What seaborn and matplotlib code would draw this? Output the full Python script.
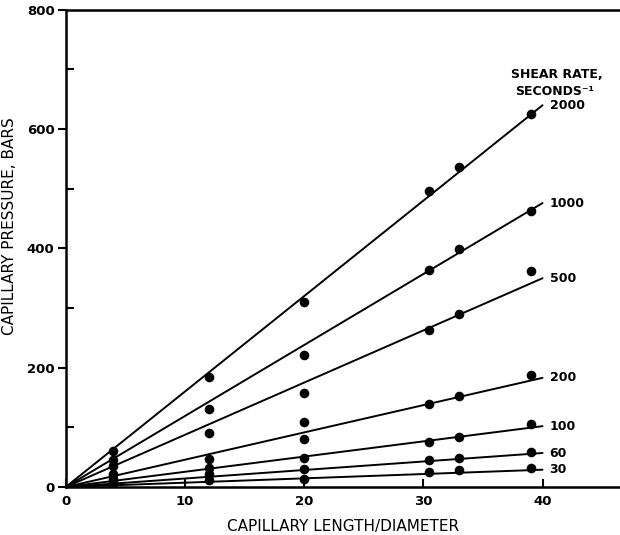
import numpy as np
import pandas as pd
import matplotlib
matplotlib.use("Agg")
import matplotlib.pyplot as plt
import seaborn as sns
from matplotlib.ticker import MultipleLocator

# ---- data ----
shear_rates = ["2000", "1000", "500", "200", "100", "60", "30"]
length_diameter = [4, 12, 20, 30.5, 33, 39]
pressure_2000 = [60, 185, 310, 497, 537, 625]
pressure_1000 = [45, 131, 222, 364, 399, 463]
pressure_500 = [35, 90, 158, 263, 290, 362]
pressure_200 = [22, 47, 80, 139, 153, 187]
pressure_100 = [14, 32, 49, 76, 84, 106]
pressure_60 = [9, 22, 30, 45, 49, 59]
pressure_30 = [5, 12, 13, 25, 29, 32]
extra_x = [20]
extra_pressure = [109]
# fitted straight lines: pressure at L/D = 40
fit_x = [0, 40]
fit_end_pressure = [640, 476, 350, 183, 102, 57, 29]

x_ticks = [0, 10, 20, 30, 40]
y_ticks = [0, 200, 400, 600, 800]

series = [pressure_2000, pressure_1000, pressure_500, pressure_200,
          pressure_100, pressure_60, pressure_30]

pts = pd.DataFrame(
    [(x, y, r) for r, ys in zip(shear_rates, series) for x, y in zip(length_diameter, ys)]
    + [(x, y, "200") for x, y in zip(extra_x, extra_pressure)],
    columns=["ld", "p", "rate"],
)
lines = pd.DataFrame(
    [(x, x / fit_x[1] * v, r) for r, v in zip(shear_rates, fit_end_pressure) for x in fit_x],
    columns=["ld", "p", "rate"],
)

sns.set_theme(style="ticks")
plt.rcParams["font.family"] = ["DejaVu Sans"]
plt.rcParams["text.color"] = "black"
plt.rcParams["axes.labelcolor"] = "black"
plt.rcParams["xtick.color"] = "black"
plt.rcParams["ytick.color"] = "black"

fig = plt.figure(figsize=(6.2, 5.35), dpi=100)
ax = fig.add_axes([0.106, 0.0897, 0.894, 0.892])

sns.lineplot(data=lines, x="ld", y="p", units="rate", estimator=None,
             color="black", linewidth=1.4, ax=ax, legend=False)
sns.scatterplot(data=pts, x="ld", y="p", color="black", s=48,
                edgecolor="black", linewidth=0, ax=ax, legend=False, zorder=3)

ax.set_xlim(0, 46.5)
ax.set_ylim(0, 800)
ax.set_xticks(x_ticks)
ax.set_yticks(y_ticks)
ax.yaxis.set_minor_locator(MultipleLocator(100))
ax.tick_params(axis="x", direction="in", length=6, width=1.5, labelsize=9.5, pad=6)
ax.tick_params(axis="y", which="major", direction="out", length=6, width=1.5, labelsize=9.5, pad=2)
ax.tick_params(axis="y", which="minor", direction="in", length=6, width=1.5)
for lab in ax.get_xticklabels() + ax.get_yticklabels():
    lab.set_fontweight("bold")

for side in ["left", "bottom", "top"]:
    ax.spines[side].set_linewidth(1.8)
    ax.spines[side].set_color("black")
ax.spines["right"].set_visible(False)

ax.set_xlabel("CAPILLARY LENGTH/DIAMETER", fontsize=11, labelpad=8, fontweight="medium")
ax.set_ylabel("CAPILLARY PRESSURE, BARS", fontsize=11, fontweight="medium")
ax.yaxis.set_label_coords(-0.087, 0.547)

for r, v in zip(shear_rates, fit_end_pressure):
    ax.text(fit_x[1] + 0.6, v, r, fontsize=9, fontweight="bold", va="center", ha="left")
ax.text(41.2, 692, "SHEAR RATE,", fontsize=9, fontweight="bold", ha="center", va="center")
ax.text(41.0, 663, "SECONDS\u207b\u00b9", fontsize=9, fontweight="bold", ha="center", va="center")

fig.savefig("out.png", dpi=100)
